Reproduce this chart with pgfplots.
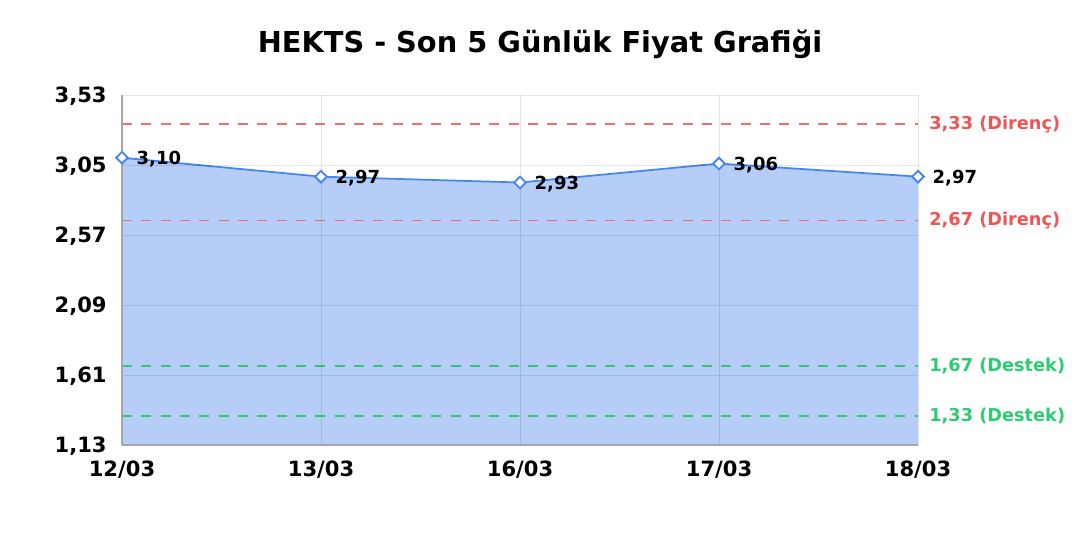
\documentclass[border=0pt]{standalone}
\usepackage{pgfplots}
\pgfplotsset{compat=1.18}
\usepackage{fontspec}
\setmainfont{DejaVu Sans}
\definecolor{lineblue}{HTML}{4285F4}
\definecolor{fillblue}{HTML}{B6CDF7}
\definecolor{resred}{HTML}{EE5555}
\definecolor{supgreen}{HTML}{2ECC71}
\begin{document}
\begin{tikzpicture}
\begin{axis}[
  scale only axis,
  width=597pt, height=262.5pt,
  xmin=0, xmax=4, ymin=1.13, ymax=3.53,
  xtick={0,1,2,3,4},
  xticklabels={12/03,13/03,16/03,17/03,18/03},
  ytick={1.13,1.61,2.09,2.57,3.05,3.53},
  /pgf/number format/.cd, use comma, fixed, fixed zerofill, precision=2, assume math mode=true,
  /pgfplots/.cd,
  axis on top,
  axis lines*=left,
  axis line style={draw=gray!70, line width=0.9pt, -},
  major tick length=0pt,
  grid=major,
  grid style={draw=black, line width=0.7pt, opacity=0.1},
  tick label style={font=\fontsize{15.8}{17}\selectfont\bfseries},
  xticklabel style={yshift=-8pt},
  yticklabel style={xshift=-8pt, yshift=-1pt},
  clip=false,
]
\addplot[fill=fillblue, draw=none] coordinates {(0,3.10) (1,2.97) (2,2.93) (3,3.06) (4,2.97)} \closedcycle;
\addplot[resred!85, dash pattern=on 7.5pt off 7pt, line width=1.3pt] coordinates {(0,3.33) (4,3.33)};
\addplot[resred!85, dash pattern=on 7.5pt off 7pt, line width=1.3pt] coordinates {(0,2.67) (4,2.67)};
\addplot[supgreen, dash pattern=on 7.5pt off 7pt, line width=1.3pt] coordinates {(0,1.67) (4,1.67)};
\addplot[supgreen, dash pattern=on 7.5pt off 7pt, line width=1.3pt] coordinates {(0,1.33) (4,1.33)};
\addplot[lineblue, line width=1.3pt, mark=square*, mark size=3.1pt,
  mark options={fill=white, draw=lineblue, line width=1.4pt, rotate=45},
  nodes near coords, point meta=y,
  every node near coord/.style={anchor=west, xshift=7pt, yshift=-1pt, text=black,
    font=\fontsize{13.5}{15}\selectfont\bfseries}]
  coordinates {(0,3.10) (1,2.97) (2,2.93) (3,3.06) (4,2.97)};
\node[anchor=west, xshift=5pt, text=resred, font=\fontsize{13.3}{15}\selectfont\bfseries] at (axis cs:4,3.33) {3,33 (Direnç)};
\node[anchor=west, xshift=5pt, text=resred, font=\fontsize{13.3}{15}\selectfont\bfseries] at (axis cs:4,2.67) {2,67 (Direnç)};
\node[anchor=west, xshift=5pt, text=supgreen, font=\fontsize{13.3}{15}\selectfont\bfseries] at (axis cs:4,1.67) {1,67 (Destek)};
\node[anchor=west, xshift=5pt, text=supgreen, font=\fontsize{13.3}{15}\selectfont\bfseries] at (axis cs:4,1.33) {1,33 (Destek)};
\end{axis}
\node[font=\fontsize{21.6}{24}\selectfont\bfseries] at (313.5pt,300.75pt) {HEKTS - Son 5 Günlük Fiyat Grafiği};
\path[use as bounding box] (-91.5pt,-71.25pt) rectangle (718.5pt,333.75pt);
\end{tikzpicture}
\end{document}
